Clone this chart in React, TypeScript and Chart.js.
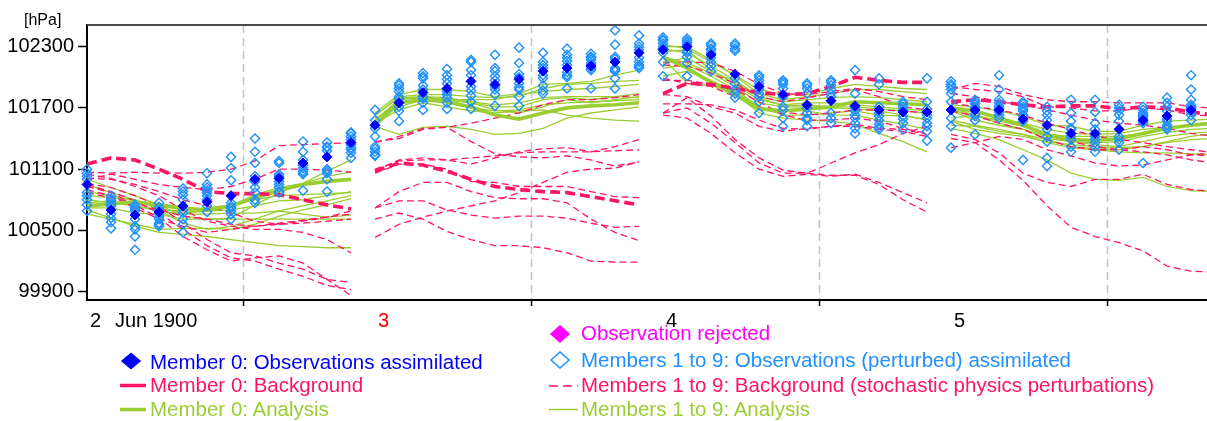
import { useEffect, useRef } from "react";
import { Chart, registerables } from "chart.js";

Chart.register(...registerables);

// ---- colours ----
const RED = "#ff1463";
const GREEN = "#9acd32";
const OBS_BLUE = "#0000ff";
const PERT_BLUE = "#1e90ff";
const MAGENTA = "#ff00ff";
const FONT = "'Liberation Sans', Arial, sans-serif";

// ---- time axis (hours after 2 Jun 1900 00 UTC) ----
const cycleStartHours = [-1, 23, 47, 71];
const obsOffsetHours = [0, 2, 4, 6, 8, 10, 12, 14, 16, 18, 20, 22];
const noonHours = [12, 36, 60, 84];
const dayHours = [0, 24, 48, 72];
const dayLabels = ["2", "3", "4", "5"];
const dayColors = ["#000000", "#ff0000", "#000000", "#000000"];
const monthLabel = "Jun 1900";
const xMinHours = -1;
const xMaxHours = 92.33;

// ---- pressure axis ----
const yTicks = [99900, 100500, 101100, 101700, 102300];
const yMin = 99818;
const yMax = 102512;

// ================= cycle 1 =================
const obsM0Cycle1 = [100950, 100700, 100650, 100680, 100740, 100780, 100840, 101000, 101010, 101160, 101220, 101360];
const obsPertCycle1 = [
  [101100, 101060, 101030, 101000, 100870, 100840, 100800, 100750, 100690],
  [100840, 100810, 100790, 100760, 100740, 100660, 100620, 100580, 100520],
  [100750, 100730, 100710, 100690, 100610, 100540, 100510, 100440, 100310],
  [100770, 100730, 100700, 100660, 100630, 100610, 100570, 100560, 100540],
  [100910, 100880, 100850, 100800, 100700, 100670, 100610, 100560, 100480],
  [101060, 100950, 100920, 100890, 100870, 100840, 100800, 100740, 100680],
  [101220, 101110, 100990, 100770, 100740, 100720, 100690, 100660, 100610],
  [101400, 101270, 101160, 101030, 100980, 100920, 100870, 100800, 100770],
  [101180, 101160, 101050, 101030, 100980, 100950, 100920, 100880, 100870],
  [101370, 101270, 101190, 101140, 101110, 101080, 101060, 101050, 100890],
  [101360, 101320, 101310, 101280, 101100, 101080, 101060, 101000, 100880],
  [101460, 101450, 101420, 101390, 101340, 101310, 101290, 101260, 101210],
];
const bgM0Cycle1 = [101150, 101210, 101190, 101100, 101000, 100880, 100860, 100860, 100850, 100800, 100750, 100710];
const bgCycle1 = [
  [101070, 101060, 101070, 101060, 101060, 101070, 101100, 101180, 101330, 101340, 101350, 101360],
  [101000, 101050, 101000, 100950, 100920, 100900, 100930, 101000, 101100, 101100, 101090, 101070],
  [101010, 101000, 100950, 100880, 100800, 100740, 100670, 100590, 100560, 100590, 100630, 100690],
  [101050, 101010, 100930, 100840, 100700, 100590, 100540, 100510, 100510, 100480, 100410, 100280],
  [100960, 100920, 100840, 100740, 100570, 100410, 100280, 100250, 100180, 100120, 100020, 99990],
  [100950, 100880, 100790, 100670, 100510, 100350, 100230, 100200, 100120, 100050, 99960, 99920],
  [100930, 100870, 100750, 100620, 100440, 100310, 100200, 100230, 100250, 100180, 100020, 99860],
  [100900, 100840, 100720, 100610, 100540, 100480, 100510, 100540, 100570, 100600, 100630, 100660],
  [100870, 100820, 100770, 100700, 100640, 100610, 100560, 100540, 100560, 100570, 100590, 100610],
];
const anM0Cycle1 = [100740, 100760, 100780, 100750, 100720, 100700, 100740, 100820, 100890, 100950, 100980, 101000];
const anCycle1 = [
  [101000, 100920, 100840, 100750, 100640, 100610, 100620, 100750, 100870, 100960, 101080, 101190],
  [100950, 100870, 100800, 100720, 100670, 100690, 100740, 100850, 100920, 100960, 101030, 101070],
  [100840, 100820, 100800, 100700, 100690, 100690, 100700, 100740, 100790, 100800, 100840, 100880],
  [100880, 100840, 100790, 100740, 100700, 100720, 100750, 100800, 100840, 100850, 100860, 100870],
  [100800, 100770, 100740, 100690, 100660, 100660, 100670, 100670, 100690, 100660, 100630, 100650],
  [100720, 100720, 100670, 100660, 100610, 100610, 100610, 100610, 100610, 100610, 100610, 100610],
  [100700, 100620, 100540, 100480, 100460, 100440, 100410, 100380, 100350, 100340, 100330, 100330],
  [100660, 100610, 100560, 100510, 100520, 100520, 100510, 100560, 100640, 100700, 100750, 100810],
  [100770, 100790, 100740, 100700, 100570, 100510, 100540, 100610, 100690, 100740, 100790, 100840],
];

// ================= cycle 2 =================
const obsM0Cycle2 = [101530, 101750, 101850, 101890, 101960, 101930, 101980, 102060, 102090, 102110, 102150, 102240];
const obsPertCycle2 = [
  [101680, 101580, 101500, 101420, 101320, 101300, 101270, 101240, 101230],
  [101940, 101920, 101890, 101860, 101810, 101790, 101710, 101670, 101570],
  [102040, 102010, 101990, 101920, 101880, 101810, 101790, 101750, 101680],
  [102080, 102020, 101980, 101940, 101860, 101830, 101800, 101750, 101690],
  [102170, 102150, 102070, 102020, 101910, 101870, 101820, 101760, 101690],
  [102220, 102090, 102060, 102010, 101970, 101910, 101880, 101830, 101720],
  [102290, 102140, 102030, 102000, 101940, 101900, 101880, 101810, 101720],
  [102240, 102150, 102120, 102090, 102020, 101990, 101920, 101870, 101840],
  [102280, 102220, 102190, 102160, 102120, 102050, 102020, 102000, 101890],
  [102230, 102200, 102190, 102170, 102140, 102120, 102090, 102070, 101890],
  [102460, 102320, 102200, 102180, 102090, 102070, 102060, 101990, 101890],
  [102410, 102330, 102300, 102270, 102190, 102150, 102120, 102100, 102090],
];
const bgM0Cycle2 = [101080, 101160, 101140, 101080, 101000, 100930, 100900, 100880, 100870, 100830, 100790, 100750];
const bgCycle2 = [
  [101360, 101420, 101500, 101510, 101550, 101600, 101650, 101730, 101780, 101780, 101800, 101830],
  [101370, 101400, 101490, 101510, 101370, 101250, 101220, 101210, 101230, 101190, 101130, 101170],
  [101080, 101190, 101210, 101190, 101150, 101210, 101270, 101300, 101310, 101270, 101320, 101390],
  [101100, 101180, 101190, 101190, 101210, 101230, 101260, 101270, 101270, 101270, 101280, 101290],
  [101060, 101150, 101150, 101100, 100980, 100970, 100930, 100930, 100930, 100880, 100830, 100820],
  [100720, 100880, 100970, 100970, 100880, 100820, 100810, 100810, 100770, 100610, 100480, 100400],
  [100720, 100790, 100790, 100700, 100650, 100620, 100640, 100640, 100620, 100570, 100530, 100540],
  [100610, 100670, 100610, 100490, 100410, 100350, 100350, 100330, 100280, 100200, 100190, 100190],
  [100430, 100560, 100630, 100690, 100740, 100790, 100870, 100970, 101070, 101100, 101110, 101170],
];
const anM0Cycle2 = [101530, 101750, 101780, 101760, 101710, 101630, 101590, 101650, 101700, 101720, 101730, 101750];
const anCycle2 = [
  [101650, 101830, 101880, 101880, 101860, 101810, 101840, 101930, 101940, 101960, 102020, 102070],
  [101620, 101810, 101830, 101830, 101810, 101800, 101810, 101890, 101930, 101940, 101960, 101970],
  [101580, 101780, 101800, 101780, 101750, 101710, 101710, 101780, 101800, 101780, 101810, 101840],
  [101630, 101800, 101810, 101800, 101760, 101730, 101750, 101800, 101810, 101810, 101810, 101800],
  [101570, 101760, 101780, 101750, 101700, 101670, 101680, 101730, 101750, 101760, 101770, 101780],
  [101550, 101680, 101750, 101710, 101670, 101650, 101670, 101680, 101630, 101600, 101580, 101570],
  [101520, 101440, 101510, 101520, 101490, 101440, 101450, 101500, 101600, 101650, 101680, 101710],
  [101570, 101780, 101810, 101780, 101750, 101680, 101650, 101710, 101780, 101750, 101780, 101810],
  [101600, 101710, 101780, 101780, 101780, 101780, 101830, 101860, 101880, 101890, 101910, 101930],
];

// ================= cycle 3 =================
const obsM0Cycle3 = [102270, 102300, 102220, 102030, 101910, 101830, 101730, 101770, 101720, 101680, 101660, 101660];
const obsPertCycle3 = [
  [102390, 102370, 102360, 102330, 102300, 102280, 102240, 102150, 102010],
  [102380, 102360, 102340, 102320, 102260, 102240, 102200, 102140, 102010],
  [102330, 102310, 102280, 102270, 102240, 102190, 102150, 102110, 102060],
  [102330, 102310, 102280, 102260, 101990, 101940, 101880, 101840, 101800],
  [102020, 102000, 101970, 101940, 101880, 101840, 101810, 101760, 101650],
  [101970, 101950, 101930, 101890, 101810, 101710, 101680, 101600, 101520],
  [101940, 101920, 101890, 101840, 101700, 101650, 101600, 101580, 101520],
  [101970, 101950, 101920, 101880, 101840, 101810, 101650, 101600, 101550],
  [102070, 101840, 101700, 101670, 101630, 101600, 101550, 101500, 101450],
  [101990, 101930, 101710, 101650, 101620, 101580, 101540, 101510, 101490],
  [101760, 101740, 101710, 101680, 101670, 101620, 101590, 101550, 101490],
  [101990, 101760, 101690, 101630, 101600, 101550, 101520, 101470, 101380],
];
const bgM0Cycle3 = [101840, 101940, 101930, 101890, 101850, 101830, 101840, 101910, 102000, 101970, 101950, 101950];
const bgCycle3 = [
  [102140, 102150, 102140, 102060, 101930, 101840, 101830, 101860, 101890, 101860, 101810, 101780],
  [102120, 102110, 102040, 101940, 101810, 101760, 101800, 101840, 101880, 101810, 101710, 101680],
  [101990, 101940, 101910, 101810, 101710, 101660, 101630, 101650, 101680, 101680, 101670, 101650],
  [101970, 101970, 101930, 101880, 101760, 101630, 101580, 101580, 101600, 101570, 101500, 101450],
  [101830, 101810, 101710, 101650, 101520, 101470, 101500, 101520, 101520, 101490, 101470, 101420],
  [101740, 101740, 101730, 101680, 101580, 101500, 101490, 101520, 101540, 101500, 101490, 101440],
  [101630, 101600, 101450, 101260, 101100, 101030, 101050, 101030, 101050, 100970, 100870, 100770],
  [101650, 101700, 101550, 101360, 101160, 101060, 101060, 101040, 101040, 100950, 100800, 100680],
  [101650, 101800, 101620, 101390, 101210, 101090, 101060, 101160, 101260, 101340, 101450, 101520],
];
const anM0Cycle3 = [102200, 102090, 101950, 101830, 101690, 101670, 101690, 101710, 101760, 101750, 101740, 101730];
const anCycle3 = [
  [102320, 102280, 102150, 102020, 101880, 101830, 101830, 101890, 101930, 101910, 101890, 101880],
  [102300, 102300, 102170, 102010, 101840, 101780, 101810, 101840, 101880, 101880, 101860, 101840],
  [102280, 102240, 102110, 101970, 101810, 101760, 101780, 101800, 101810, 101800, 101780, 101760],
  [102250, 102270, 102070, 101930, 101780, 101730, 101750, 101750, 101730, 101710, 101690, 101670],
  [102200, 102140, 102040, 101910, 101750, 101710, 101710, 101700, 101690, 101670, 101630, 101580],
  [102190, 101940, 101920, 101840, 101650, 101600, 101580, 101570, 101540, 101450, 101370, 101270],
  [102090, 102120, 102010, 101880, 101710, 101630, 101630, 101650, 101670, 101630, 101620, 101590],
  [102010, 102060, 101970, 101860, 101700, 101680, 101670, 101630, 101630, 101580, 101540, 101490],
  [102150, 102190, 102060, 101960, 101800, 101720, 101730, 101710, 101710, 101690, 101670, 101650],
];

// ================= cycle 4 =================
const obsM0Cycle4 = [101680, 101680, 101680, 101590, 101530, 101450, 101450, 101490, 101580, 101620, 101680];
const obsPertCycle4 = [
  [101960, 101930, 101910, 101880, 101840, 101760, 101600, 101520, 101310],
  [101780, 101760, 101740, 101710, 101700, 101640, 101620, 101580, 101440],
  [102020, 101880, 101780, 101750, 101720, 101700, 101660, 101630, 101600],
  [101760, 101740, 101710, 101690, 101670, 101630, 101620, 101570, 101190],
  [101710, 101670, 101630, 101580, 101490, 101420, 101370, 101210, 101130],
  [101780, 101650, 101570, 101500, 101420, 101390, 101320, 101270, 101490],
  [101780, 101660, 101550, 101490, 101420, 101360, 101320, 101270, 101390],
  [101730, 101700, 101670, 101630, 101570, 101420, 101360, 101290, 101390],
  [101710, 101680, 101650, 101600, 101550, 101160, 101620, 101570, 101630],
  [101800, 101750, 101710, 101670, 101590, 101570, 101530, 101510, 101490],
  [102020, 101880, 101780, 101730, 101710, 101700, 101660, 101630, 101580],
];
const bgM0Cycle4 = [101760, 101780, 101760, 101730, 101710, 101720, 101720, 101690, 101710, 101700, 101660, 101630];
const bgCycle4 = [
  [101880, 101940, 101910, 101830, 101780, 101760, 101760, 101750, 101750, 101750, 101710, 101700],
  [101910, 101880, 101860, 101810, 101710, 101700, 101670, 101670, 101700, 101680, 101630, 101620],
  [101840, 101810, 101760, 101730, 101680, 101630, 101580, 101550, 101530, 101500, 101450, 101420],
  [101750, 101710, 101680, 101630, 101550, 101490, 101420, 101390, 101360, 101320, 101290, 101260],
  [101710, 101670, 101600, 101530, 101440, 101370, 101320, 101290, 101270, 101240, 101190, 101160],
  [101670, 101620, 101550, 101490, 101390, 101320, 101290, 101290, 101320, 101290, 101240, 101230],
  [101440, 101390, 101260, 101060, 100970, 100930, 101000, 101000, 101050, 100950, 100900, 100880],
  [101400, 101360, 101190, 100990, 100740, 100530, 100440, 100380, 100300, 100150, 100100, 100090],
  [101310, 101360, 101420, 101390, 101290, 101230, 101160, 101130, 101140, 101190, 101240, 101260],
];
const anM0Cycle4 = [101700, 101670, 101600, 101530, 101440, 101390, 101380, 101400, 101450, 101500, 101530, 101550];
const anCycle4 = [
  [101730, 101710, 101670, 101620, 101530, 101520, 101470, 101470, 101530, 101570, 101580, 101590],
  [101700, 101630, 101570, 101520, 101440, 101420, 101420, 101420, 101450, 101500, 101540, 101560],
  [101680, 101620, 101580, 101550, 101490, 101450, 101440, 101450, 101490, 101510, 101530, 101540],
  [101670, 101580, 101530, 101490, 101400, 101370, 101360, 101370, 101420, 101460, 101490, 101500],
  [101600, 101630, 101550, 101490, 101420, 101370, 101340, 101320, 101370, 101420, 101450, 101470],
  [101580, 101530, 101490, 101440, 101360, 101310, 101290, 101270, 101260, 101260, 101250, 101240],
  [101570, 101490, 101450, 101420, 101370, 101340, 101320, 101310, 101320, 101360, 101390, 101400],
  [101500, 101450, 101390, 101290, 101190, 101060, 101000, 100990, 101020, 100930, 100890, 100880],
  [101530, 101520, 101470, 101440, 101390, 101320, 101300, 101290, 101320, 101370, 101420, 101450],
];

const cycles = [
  { start: cycleStartHours[0], obsM0: obsM0Cycle1, obsPert: obsPertCycle1, bgM0: bgM0Cycle1, bg: bgCycle1, anM0: anM0Cycle1, an: anCycle1 },
  { start: cycleStartHours[1], obsM0: obsM0Cycle2, obsPert: obsPertCycle2, bgM0: bgM0Cycle2, bg: bgCycle2, anM0: anM0Cycle2, an: anCycle2 },
  { start: cycleStartHours[2], obsM0: obsM0Cycle3, obsPert: obsPertCycle3, bgM0: bgM0Cycle3, bg: bgCycle3, anM0: anM0Cycle3, an: anCycle3 },
  { start: cycleStartHours[3], obsM0: obsM0Cycle4, obsPert: obsPertCycle4, bgM0: bgM0Cycle4, bg: bgCycle4, anM0: anM0Cycle4, an: anCycle4 },
];

function series(start: number, values: number[]) {
  return values.map((v, i) => ({ x: start + obsOffsetHours[i], y: v }));
}

function lineSet(data: any[], color: string, width: number, dash: number[], order: number) {
  return {
    data,
    borderColor: color,
    borderWidth: width,
    borderDash: dash,
    pointRadius: 0,
    tension: 0,
    fill: false,
    order,
  };
}

function buildDatasets() {
  const sets: any[] = [];
  cycles.forEach((c) => {
    c.an.forEach((m) => sets.push(lineSet(series(c.start, m), GREEN, 1.3, [], 5)));
    c.bg.forEach((m) => sets.push(lineSet(series(c.start, m), RED, 1.3, [7, 4], 4)));
    sets.push(lineSet(series(c.start, c.anM0), GREEN, 3.6, [], 3));
    sets.push(lineSet(series(c.start, c.bgM0), RED, 3.6, [10, 5], 2));
    const pert: { x: number; y: number }[] = [];
    c.obsPert.forEach((col, i) => col.forEach((v) => pert.push({ x: c.start + obsOffsetHours[i], y: v })));
    sets.push({
      data: pert,
      showLine: false,
      pointStyle: "rectRot",
      pointRadius: 4.6,
      pointBorderWidth: 1.4,
      pointBorderColor: PERT_BLUE,
      pointBackgroundColor: "rgba(255,255,255,0)",
      clip: false,
      order: 1,
    });
    sets.push({
      data: series(c.start, c.obsM0),
      showLine: false,
      pointStyle: "rectRot",
      pointRadius: 5,
      pointBorderWidth: 1,
      pointBorderColor: OBS_BLUE,
      pointBackgroundColor: OBS_BLUE,
      clip: false,
      order: 0,
    });
  });
  return sets;
}

// Noon guide lines, frame, time-axis ticks and day labels
const timeAxisDecor = {
  id: "timeAxisDecor",
  beforeDatasetsDraw(chart: any) {
    const { ctx, chartArea: a } = chart;
    const x = chart.scales.x;
    ctx.save();
    ctx.strokeStyle = "#c2c2c2";
    ctx.lineWidth = 1.5;
    ctx.setLineDash([8, 5]);
    noonHours.forEach((h) => {
      const px = Math.round(x.getPixelForValue(h)) + 0.5;
      ctx.beginPath();
      ctx.moveTo(px, a.top);
      ctx.lineTo(px, a.bottom);
      ctx.stroke();
    });
    ctx.restore();
  },
  afterDraw(chart: any) {
    const { ctx, chartArea: a } = chart;
    const x = chart.scales.x;
    ctx.save();
    ctx.setLineDash([]);
    ctx.strokeStyle = "#4a4a4a";
    ctx.lineWidth = 2;
    ctx.beginPath();
    ctx.moveTo(a.left, a.top);
    ctx.lineTo(a.right, a.top);
    ctx.stroke();
    ctx.strokeStyle = "#000";
    ctx.beginPath();
    ctx.moveTo(a.left - 1, a.bottom);
    ctx.lineTo(a.right, a.bottom);
    ctx.stroke();
    ctx.lineWidth = 1.5;
    noonHours.forEach((h) => {
      const px = Math.round(x.getPixelForValue(h)) + 0.5;
      ctx.beginPath();
      ctx.moveTo(px, a.bottom);
      ctx.lineTo(px, a.bottom + 6);
      ctx.stroke();
    });
    ctx.font = `20px ${FONT}`;
    ctx.textBaseline = "alphabetic";
    ctx.textAlign = "center";
    dayHours.forEach((h, i) => {
      ctx.fillStyle = dayColors[i];
      ctx.fillText(dayLabels[i], x.getPixelForValue(h) - 3.5, a.bottom + 27);
    });
    ctx.textAlign = "left";
    ctx.fillStyle = "#000";
    ctx.fillText(monthLabel, x.getPixelForValue(dayHours[0]) + 16, a.bottom + 27);
    ctx.restore();
  },
};

function Diamond({ cx, cy, w, h, fill, stroke }: any) {
  const pts = `${cx - w},${cy} ${cx},${cy - h} ${cx + w},${cy} ${cx},${cy + h}`;
  return <polygon points={pts} fill={fill} stroke={stroke} strokeWidth={1.5} />;
}

const legendText: React.CSSProperties = {
  position: "absolute",
  fontFamily: FONT,
  fontSize: "20.5px",
  lineHeight: "24px",
  whiteSpace: "nowrap",
};

export default function App() {
  const canvasRef = useRef<HTMLCanvasElement | null>(null);

  useEffect(() => {
    const canvas = canvasRef.current;
    if (!canvas) return;
    const chart = new Chart(canvas, {
      type: "line",
      data: { datasets: buildDatasets() },
      options: {
        animation: false,
        responsive: false,
        devicePixelRatio: 1,
        layout: { autoPadding: false, padding: { top: 25, bottom: 121, left: 0, right: 0 } },
        plugins: { legend: { display: false }, tooltip: { enabled: false } },
        scales: {
          x: { type: "linear", min: xMinHours, max: xMaxHours, display: false },
          y: {
            type: "linear",
            min: yMin,
            max: yMax,
            afterBuildTicks: (s: any) => {
              s.ticks = yTicks.map((v) => ({ value: v }));
            },
            afterFit: (s: any) => {
              s.width = 87;
            },
            grid: { drawOnChartArea: false, tickLength: 9, tickWidth: 1.5, tickColor: "#000" },
            border: { color: "#000", width: 2 },
            ticks: {
              color: "#000",
              padding: 4,
              font: { family: FONT, size: 20 },
              callback: (v: any) => String(v),
            },
          },
        },
      },
      plugins: [timeAxisDecor],
    } as any);
    return () => chart.destroy();
  }, []);

  return (
    <div style={{ position: "absolute", left: 0, top: 0, width: 1207, height: 421, background: "#fff", overflow: "hidden" }}>
      <canvas ref={canvasRef} width={1207} height={421} style={{ position: "absolute", left: 0, top: 0 }} />
      <div style={{ position: "absolute", left: 24, top: 10, fontFamily: FONT, fontSize: "16px", lineHeight: "20px" }}>[hPa]</div>
      <svg width={1207} height={421} style={{ position: "absolute", left: 0, top: 0, pointerEvents: "none" }}>
        <Diamond cx={560} cy={334} w={9} h={8} fill={MAGENTA} stroke={MAGENTA} />
        <Diamond cx={131} cy={361} w={9} h={7.5} fill={OBS_BLUE} stroke={OBS_BLUE} />
        <Diamond cx={560} cy={360} w={9} h={8} fill="none" stroke={PERT_BLUE} />
        <line x1={120} y1={385.5} x2={146} y2={385.5} stroke={RED} strokeWidth={3.5} />
        <line x1={549} y1={386} x2={578} y2={386} stroke={RED} strokeWidth={1.5} strokeDasharray="9 5" />
        <line x1={120} y1={409.5} x2={146} y2={409.5} stroke={GREEN} strokeWidth={3.5} />
        <line x1={549} y1={409.5} x2={578} y2={409.5} stroke={GREEN} strokeWidth={1.5} />
      </svg>
      <div style={{ ...legendText, left: 581, top: 321, color: MAGENTA }}>Observation rejected</div>
      <div style={{ ...legendText, left: 150, top: 350, color: OBS_BLUE }}>Member 0: Observations assimilated</div>
      <div style={{ ...legendText, left: 581, top: 348, color: PERT_BLUE }}>Members 1 to 9: Observations (perturbed) assimilated</div>
      <div style={{ ...legendText, left: 150, top: 373, color: RED }}>Member 0: Background</div>
      <div style={{ ...legendText, left: 581, top: 373, color: RED }}>Members 1 to 9: Background (stochastic physics perturbations)</div>
      <div style={{ ...legendText, left: 150, top: 397, color: GREEN }}>Member 0: Analysis</div>
      <div style={{ ...legendText, left: 581, top: 397, color: GREEN }}>Members 1 to 9: Analysis</div>
    </div>
  );
}
